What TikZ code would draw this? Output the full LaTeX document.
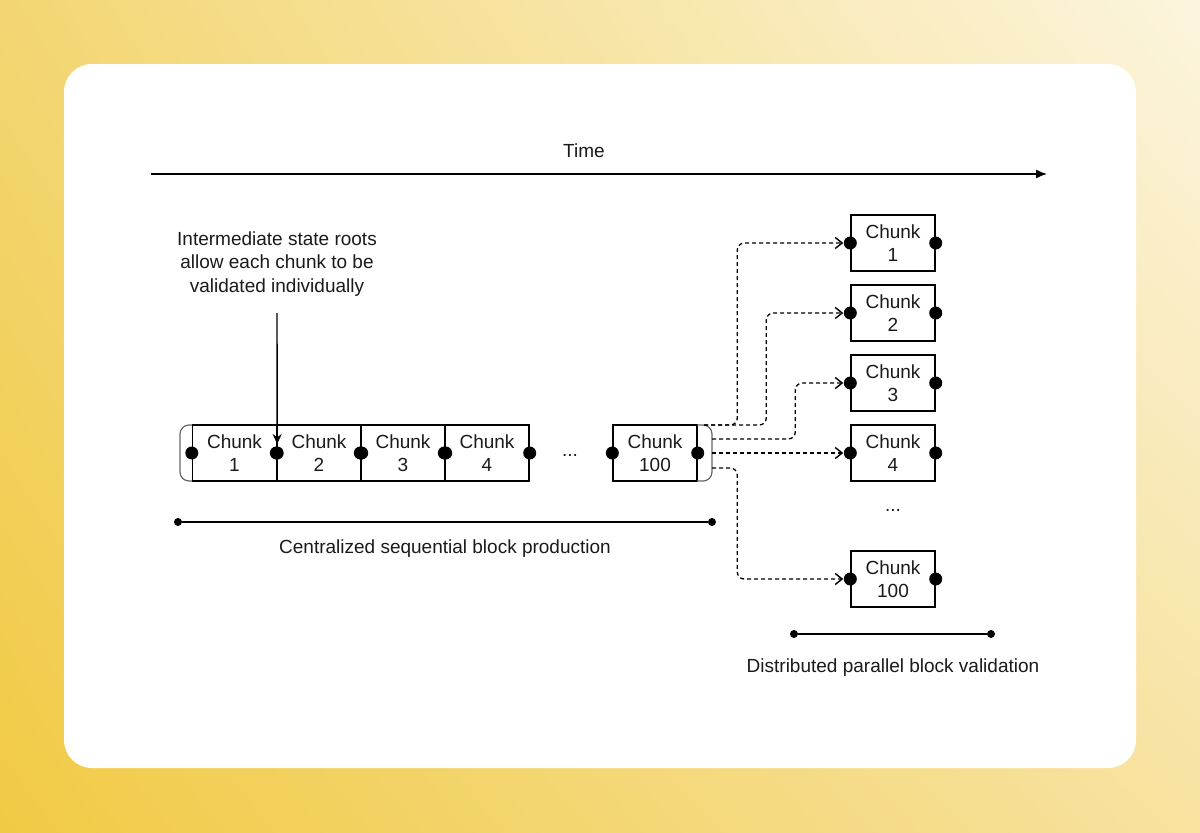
\documentclass[tikz,border=0pt]{standalone}
\usepackage{fontspec}
\setmainfont{Liberation Sans}
\usetikzlibrary{arrows.meta,shadings}
\definecolor{bgul}{HTML}{F3D673}
\definecolor{bgur}{HTML}{FCF5DE}
\definecolor{bgll}{HTML}{F1CA44}
\definecolor{bglr}{HTML}{F7E2A0}
\definecolor{ink}{HTML}{1A1A1A}
\tikzset{
  chunk/.style={draw, line width=1.4pt, minimum width=84pt, minimum height=56pt,
    inner sep=0pt, align=center, text=ink},
  tick/.style={circle, fill=black, inner sep=0pt, minimum size=8pt},
  flow/.style={line width=1.3pt, dash pattern=on 4pt off 3pt, rounded corners=7pt,
    -{Straight Barb[length=7pt,width=11pt,line width=1.4pt]}, shorten >=7pt},
  label/.style={text=ink, align=center},
}
\begin{document}
\begin{tikzpicture}[x=1pt, y=-1pt, font=\fontsize{19}{23.5}\selectfont]
  \useasboundingbox (0,0) rectangle (1200,833);
  \shade[upper left=bgul, upper right=bgur, lower left=bgll, lower right=bglr]
    (0,0) rectangle (1200,833);
  \fill[white, rounded corners=28pt] (64,64) rectangle (1136,768);

  % time axis
  \coordinate (t0) at (151,174);
  \coordinate (t1) at (1047,174);
  \draw[line width=1.4pt, -{Latex[length=11pt,width=9pt]}] (t0) -- (t1);
  \node[label] (time) at (584,151) {Time};

  % sequential production
  \node[chunk] (c1) at (234.5,453) {Chunk\\1};
  \node[chunk] (c2) at (319,453) {Chunk\\2};
  \node[chunk] (c3) at (403,453) {Chunk\\3};
  \node[chunk] (c4) at (487,453) {Chunk\\4};
  \node[label] (dots1) at (570,455) {...};
  \node[chunk] (c100) at (655,453) {Chunk\\100};
  \draw[black!60, line width=1.2pt, rounded corners=9pt] (192,425) -- (180,425) -- (180,481) -- (192,481);
  \draw[black!60, line width=1.2pt, rounded corners=9pt] (697,425) -- (712,425) -- (712,481) -- (697,481);

  % parallel validation
  \node[chunk] (v1) at (893,243) {Chunk\\1};
  \node[chunk] (v2) at (893,313) {Chunk\\2};
  \node[chunk] (v3) at (893,383) {Chunk\\3};
  \node[chunk] (v4) at (893,453) {Chunk\\4};
  \node[label] (dots2) at (893,510) {...};
  \node[chunk] (v100) at (893,579) {Chunk\\100};

  \foreach \n in {c1,c2,c3,c4,c100,v1,v2,v3,v4,v100}
    \fill (\n.west) circle (6.5pt) (\n.east) circle (6.5pt);

  % note
  \node[label] (note) at (277,264) {Intermediate state roots\\allow each chunk to be\\validated individually};
  \coordinate (ns) at (277,313);
  \draw[line width=1.4pt, -{Stealth[length=10pt,width=9pt]}] (ns) -- ([yshift=9pt]c1.east);

  % fan out
  \coordinate (o1) at (704,425);
  \coordinate (o3) at (712,439);
  \coordinate (o4) at (712,453);
  \coordinate (o5) at (712,468);
  \begin{scope}
    \draw[flow] (o1) -| ([xshift=-113pt]v1.west) -- (v1.west);
    \draw[flow] (o1) -| ([xshift=-84pt]v2.west) -- (v2.west);
    \draw[flow] (o3) -| ([xshift=-55pt]v3.west) -- (v3.west);
    \draw[flow] (o4) -- (v4.west);
    \draw[flow] (o5) -| ([xshift=-113pt]v100.west) -- (v100.west);
  \end{scope}

  % spans
  \node[tick] (s1) at (178,522) {};
  \node[tick] (s2) at (712,522) {};
  \draw[line width=1.4pt] (s1) -- (s2);
  \node[label] (prod) at (445,549) {Centralized sequential block production};
  \node[tick] (s3) at (794,634) {};
  \node[tick] (s4) at (991,634) {};
  \draw[line width=1.4pt] (s3) -- (s4);
  \node[label] (valid) at (893,668) {Distributed parallel block validation};
\end{tikzpicture}
\end{document}
